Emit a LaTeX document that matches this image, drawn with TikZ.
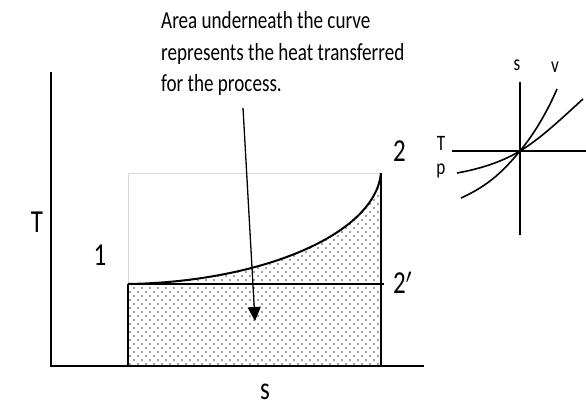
\documentclass[tikz,border=0pt]{standalone}
\usepackage{fontspec}
\setmainfont{Carlito}[FakeStretch=0.78]
\usetikzlibrary{arrows.meta,patterns}
\pgfdeclarepatternformonly{sdots}{\pgfpoint{-1pt}{-1pt}}{\pgfpoint{9pt}{9pt}}{\pgfpoint{8pt}{8pt}}{%
  \pgfpathcircle{\pgfpoint{2pt}{2pt}}{0.85pt}%
  \pgfpathcircle{\pgfpoint{6pt}{6pt}}{0.85pt}%
  \pgfusepath{fill}}
\tikzset{
  axis/.style={line width=2pt},
  thickedge/.style={line width=2.6pt},
  thinline/.style={line width=1.3pt},
  insetline/.style={line width=1.6pt},
  lbl/.style={font=\fontsize{32}{32}\selectfont, inner sep=0pt},
  ilbl/.style={font=\fontsize{22}{22}\selectfont, inner sep=0pt},
  note/.style={font=\fontsize{24.5}{24.5}\selectfont, inner sep=0pt, anchor=base west},
}
\begin{document}
\begin{tikzpicture}[x=1pt,y=-1pt]
\useasboundingbox (0,0) rectangle (586,406);
% coordinates
\coordinate (ytop) at (51,72);
\coordinate (origin) at (51,366);
\coordinate (xend) at (424,366);
\coordinate (A) at (128,366);
\coordinate (P1) at (128,284);
\coordinate (P2) at (381,173);
\coordinate (B) at (381,366);
\coordinate (P2p) at (384,284);
\coordinate (G) at (128,173);
% pattern fill
\fill[pattern=sdots, pattern color=black!75] (A) -- (P1) .. controls (260,282) and (375,235) .. (P2) -- (B) -- cycle;
% light gray guide lines
\draw[black!15, line width=0.8pt] (P1) -- (G) -- (P2);
% curve
\draw[line width=2pt] (P1) .. controls (260,282) and (375,235) .. (P2);
% 2' line
\draw[thinline] (P1) -- (P2p);
% rectangle sides
\draw[thickedge] (A) -- (P1);
\draw[thickedge] (B) -- (P2);
% axes
\draw[axis] (ytop) -- (origin) -- (xend);
% arrow
\coordinate (arrS) at (243,108);
\coordinate (arrE) at (255,321);
\draw[line width=1.3pt, -{Triangle[length=14pt,width=13pt]}] (arrS) -- (arrE);
% labels
\node[lbl] (lT) at (37,222) {T};
\node[lbl] (l1) at (100,255) {1};
\node[lbl, anchor=base west] (l2) at (393,162) {2};
\node[lbl, anchor=base west] (l2p) at (393,293) {2$'$};
\node[lbl, anchor=base] (ls) at (265,399) {s};
% note
\node[note] (n1) at (161,29) {Area underneath the curve};
\node[note] (n2) at (161,60.5) {represents the heat transferred};
\node[note] (n3) at (161,92) {for the process.};
% inset
\coordinate (c) at (520,151);
\coordinate (vt) at (520,82);
\coordinate (vb) at (520,235);
\coordinate (hl) at (452,151);
\coordinate (hr) at (586,151);
\draw[insetline] (vt) -- (vb);
\draw[insetline] (hl) -- (hr);
\draw[insetline] (461,198) .. controls (490,185) and (505,169) .. (c) .. controls (535,133) and (548,110) .. (557,89);
\draw[insetline] (457,173) .. controls (485,168) and (505,160) .. (c) .. controls (540,139) and (560,120) .. (583,99);
\node[ilbl, anchor=base] (is) at (517,71) {s};
\node[ilbl, anchor=base] (iv) at (555,73) {v};
\node[ilbl, anchor=base] (iT) at (441,151) {T};
\node[ilbl, anchor=base] (ip) at (441,175) {p};
\end{tikzpicture}
\end{document}
